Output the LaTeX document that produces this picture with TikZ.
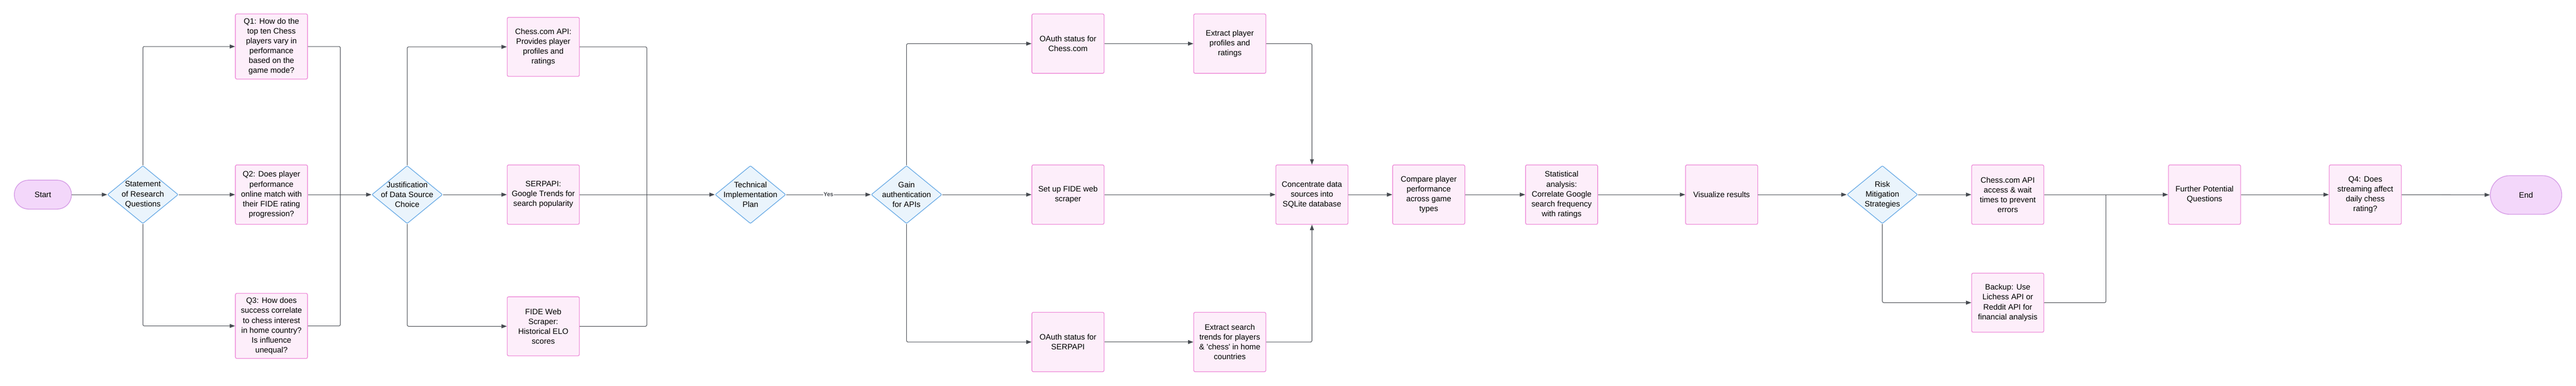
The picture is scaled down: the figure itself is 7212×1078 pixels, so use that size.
\documentclass[tikz,border=0pt]{standalone}
\usepackage{fontspec}
\setmainfont{Liberation Sans}
\usetikzlibrary{shapes.geometric,arrows.meta}
\definecolor{paleRose}{HTML}{FDEEFA}
\definecolor{roseLine}{HTML}{EE8FDA}
\definecolor{paleSky}{HTML}{EAF4FC}
\definecolor{skyLine}{HTML}{6FAEE6}
\definecolor{paleLilac}{HTML}{F3D7FA}
\definecolor{lilacLine}{HTML}{D69CE6}
\definecolor{inkGray}{HTML}{474B51}
\newcommand{\chartfont}{\fontsize{22}{27.5}\selectfont}
\tikzset{
  procBox/.style={draw=roseLine, fill=paleRose, line width=2pt, rounded corners=4pt,
    minimum width=202pt, minimum height=166pt, inner sep=0pt, align=center, font=\chartfont},
  decision/.style={diamond, draw=skyLine, fill=paleSky, line width=2pt, rounded corners=3pt,
    minimum width=198pt, minimum height=162pt, inner sep=0pt},
  decText/.style={align=center, font=\chartfont},
  terminal/.style={draw=lilacLine, fill=paleLilac, line width=2pt, align=center, font=\chartfont},
  flow/.style={draw=inkGray, line width=1.5pt, rounded corners=4pt, -{Triangle[length=15pt,width=11pt]}},
  joinLine/.style={draw=inkGray, line width=1.5pt, rounded corners=4pt},
  yesLabel/.style={fill=white, inner sep=1pt, text=inkGray, font=\bfseries\fontsize{16}{16}\selectfont}
}

\begin{document}
\begin{tikzpicture}[x=1pt, y=-1pt]
    \useasboundingbox (0,0) rectangle (7212,1078);
    % research questions
    \node[terminal, minimum width=160pt, minimum height=81pt, rounded corners=40pt] (start) at (120,544) {Start};
    \node[decision, label={[decText]center:{Statement\\of Research\\Questions}}] (stmt) at (400,544) {};
    \node[procBox, minimum height=182pt] (q1) at (760,130) {Q1: How do the\\top ten Chess\\players vary in\\performance\\based on the\\game mode?};
    \node[procBox] (q2) at (760,544) {Q2: Does player\\performance\\online match with\\their FIDE rating\\progression?};
    \node[procBox, minimum height=182pt] (q3) at (760,911) {Q3: How does\\success correlate\\to chess interest\\in home country?\\Is influence\\unequal?};
    \coordinate (qjoin) at (953,544);
    % data sources
    \node[decision, label={[decText]center:{Justification\\of Data Source\\Choice}}] (just) at (1140,544) {};
    \node[procBox, minimum height=165pt] (cdc) at (1521,131) {Chess.com API:\\Provides player\\profiles and\\ratings};
    \node[procBox] (serp) at (1521,544) {SERPAPI:\\Google Trends for\\search popularity};
    \node[procBox, minimum height=165pt] (fide) at (1521,912) {FIDE Web\\Scraper:\\Historical ELO\\scores};
    \coordinate (srcjoin) at (1811,544);
    % implementation
    \node[decision, label={[decText]center:{Technical\\Implementation\\Plan}}] (tech) at (2101,544) {};
    \node[decision, label={[decText]center:{Gain\\authentication\\for APIs}}] (auth) at (2538,544) {};
    \node[procBox] (oauthc) at (2990,122) {OAuth status for\\Chess.com};
    \node[procBox] (scraper) at (2990,544) {Set up FIDE web\\scraper};
    \node[procBox] (oauths) at (2990,956) {OAuth status for\\SERPAPI};
    \node[procBox] (extrp) at (3443,122) {Extract player\\profiles and\\ratings};
    \node[procBox] (extrs) at (3443,956) {Extract search\\trends for players\\\& \textquotesingle chess\textquotesingle{} in home\\countries};
    % analysis
    \node[procBox] (conc) at (3673,544) {Concentrate data\\sources into\\SQLite database};
    \node[procBox] (comp) at (4000,544) {Compare player\\performance\\across game\\types};
    \node[procBox] (stat) at (4372,544) {Statistical\\analysis:\\Correlate Google\\search frequency\\with ratings};
    \node[procBox] (vis) at (4820,544) {Visualize results};
    % risks and further work
    \node[decision, label={[decText]center:{Risk\\Mitigation\\Strategies}}] (risk) at (5270,544) {};
    \node[procBox] (access) at (5621,544) {Chess.com API\\access \& wait\\times to prevent\\errors};
    \node[procBox, minimum height=165pt] (backup) at (5621,846) {Backup: Use\\Lichess API or\\Reddit API for\\financial analysis};
    \coordinate (riskjoin) at (5896,544);
    \node[procBox] (further) at (6172,544) {Further Potential\\Questions};
    \node[procBox] (q4) at (6622,544) {Q4: Does\\streaming affect\\daily chess\\rating?};
    \node[terminal, minimum width=200pt, minimum height=108pt, rounded corners=54pt] (end) at (7072,545) {End};

    \draw[flow] (start) -- (stmt);
    \draw[flow] (stmt.north) |- (q1.west);
    \draw[flow] (stmt) -- (q2);
    \draw[flow] (stmt.south) |- (q3.west);
    \draw[joinLine] (q1.east) -| (qjoin);
    \draw[joinLine] (q3.east) -| (qjoin);
    \draw[flow] (q2) -- (just);
    \draw[flow] (just.north) |- (cdc.west);
    \draw[flow] (just) -- (serp);
    \draw[flow] (just.south) |- (fide.west);
    \draw[joinLine] (cdc.east) -| (srcjoin);
    \draw[joinLine] (fide.east) -| (srcjoin);
    \draw[flow] (serp) -- (tech);
    \draw[flow] (tech) -- node[yesLabel] (yes) {Yes} (auth);
    \draw[flow] (auth.north) |- (oauthc.west);
    \draw[flow] (auth) -- (scraper);
    \draw[flow] (auth.south) |- (oauths.west);
    \draw[flow] (oauthc) -- (extrp);
    \draw[flow] (oauths) -- (extrs);
    \draw[flow] (extrp.east) -| (conc.north);
    \draw[flow] (extrs.east) -| (conc.south);
    \draw[flow] (scraper) -- (conc);
    \draw[flow] (conc) -- (comp);
    \draw[flow] (comp) -- (stat);
    \draw[flow] (stat) -- (vis);
    \draw[flow] (vis) -- (risk);
    \draw[flow] (risk) -- (access);
    \draw[flow] (risk.south) |- (backup.west);
    \draw[joinLine] (backup.east) -| (riskjoin);
    \draw[flow] (access) -- (further);
    \draw[flow] (further) -- (q4);
    \draw[flow] (q4) -- (end);
\end{tikzpicture}
\end{document}
